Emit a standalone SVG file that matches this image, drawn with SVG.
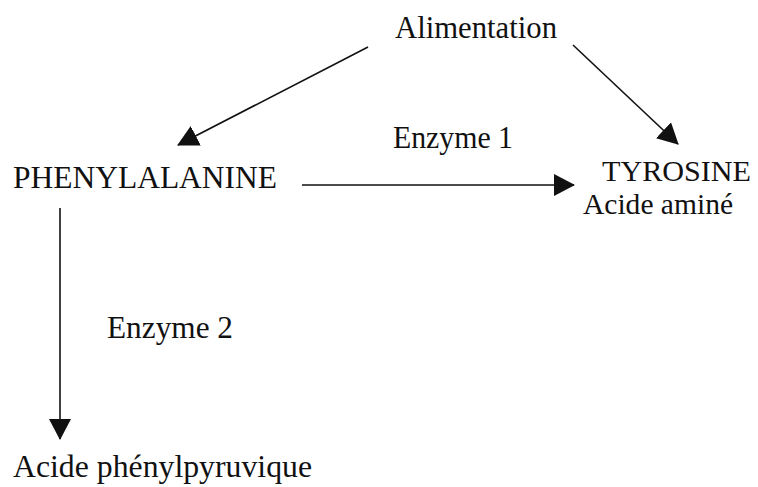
<svg xmlns="http://www.w3.org/2000/svg" width="758" height="487" viewBox="0 0 758 487">
<style>
text{font-family:"Liberation Serif","Times New Roman",serif;font-size:32px;fill:#111}
.s{font-size:30px}
.c{stroke:#111;stroke-width:1.6;fill:none}
</style>
<defs>
<marker id="ah" markerUnits="userSpaceOnUse" markerWidth="21" markerHeight="22" refX="20" refY="11" orient="auto">
<path d="M0,0 L21,11 L0,22 Z" fill="#111"/>
</marker>
</defs>
<rect width="758" height="487" fill="#fff"/>
<g id="connectors">
<line class="c" x1="368" y1="47" x2="178" y2="145" marker-end="url(#ah)"/>
<line class="c" x1="573" y1="45" x2="678" y2="144" marker-end="url(#ah)"/>
<line class="c" x1="302" y1="185" x2="574" y2="185" marker-end="url(#ah)"/>
<line class="c" x1="60" y1="208" x2="60" y2="439" marker-end="url(#ah)"/>
</g>
<g id="alimentation"><text x="395" y="38" textLength="162" lengthAdjust="spacingAndGlyphs">Alimentation</text></g>
<g id="phenylalanine"><text x="13" y="188" textLength="264" lengthAdjust="spacingAndGlyphs">PHENYLALANINE</text></g>
<g id="enzyme1"><text x="393" y="148" textLength="120" lengthAdjust="spacingAndGlyphs">Enzyme 1</text></g>
<g id="tyrosine">
<text class="s" x="602" y="181" textLength="149" lengthAdjust="spacingAndGlyphs">TYROSINE</text>
<text class="s" x="583" y="214" textLength="150" lengthAdjust="spacingAndGlyphs">Acide aminé</text>
</g>
<g id="enzyme2"><text x="107" y="338" textLength="126" lengthAdjust="spacingAndGlyphs">Enzyme 2</text></g>
<g id="acide-phenylpyruvique"><text x="13" y="477" textLength="299" lengthAdjust="spacingAndGlyphs">Acide phénylpyruvique</text></g>
</svg>
